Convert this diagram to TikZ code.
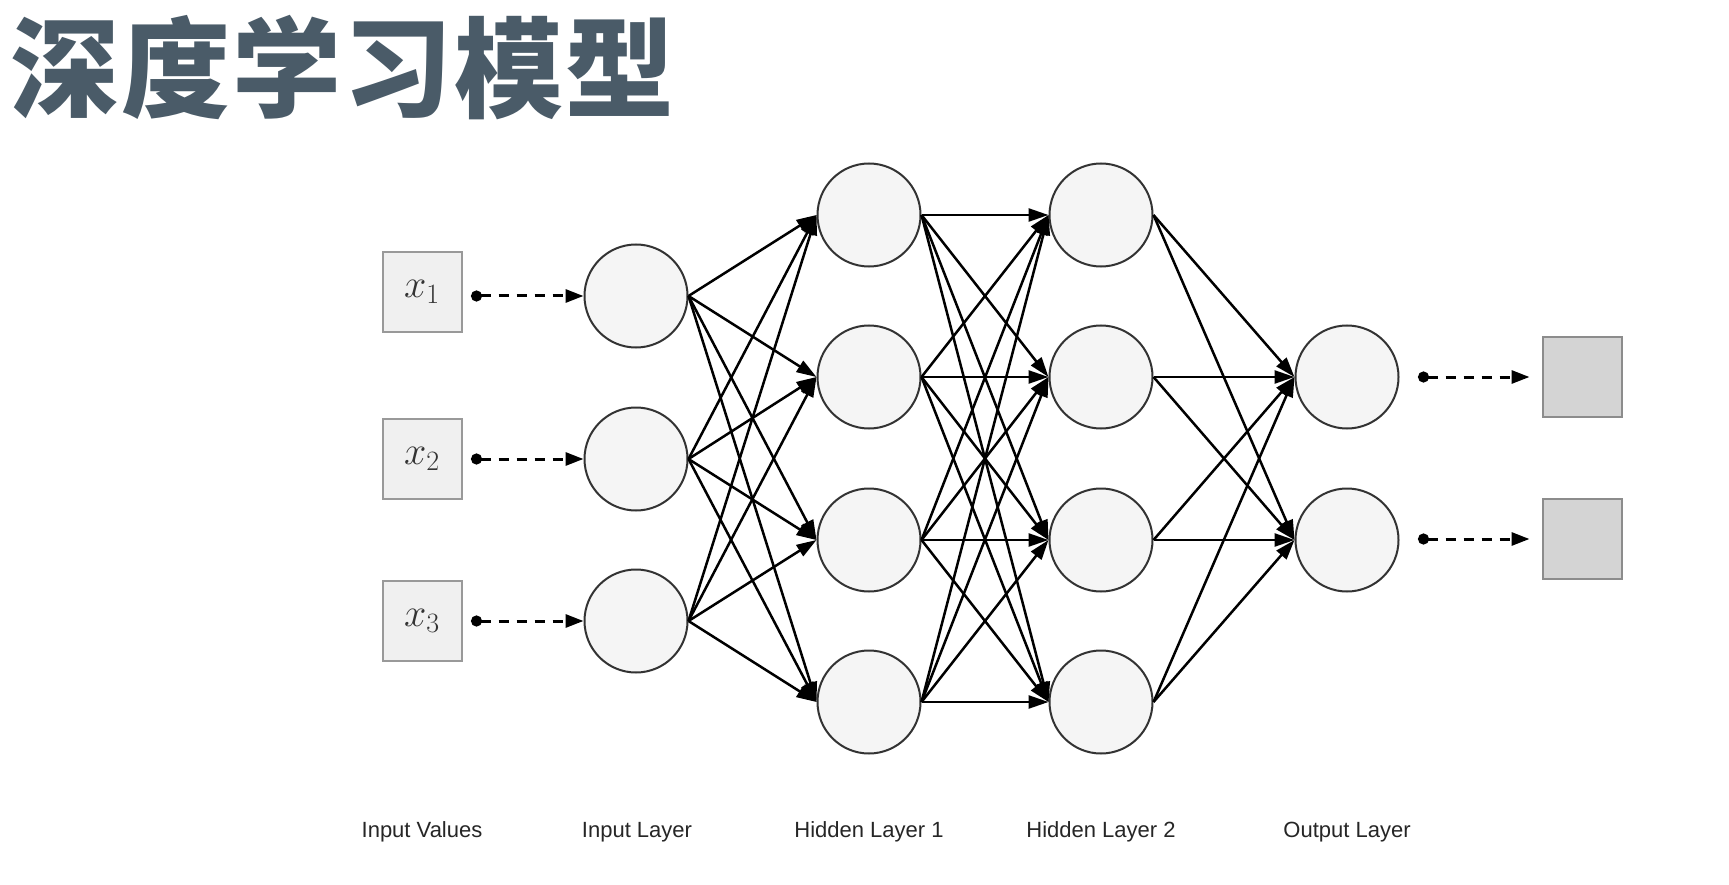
\RequirePackage{fix-cm}
\documentclass[tikz,border=0pt]{standalone}
\usepackage{fontspec}
\setmainfont{Liberation Sans}
\newfontfamily\cjk{Noto Sans CJK SC}[LetterSpace=2]
\usetikzlibrary{arrows.meta}
\definecolor{titlecol}{HTML}{4A5B68}
\begin{document}
\begin{tikzpicture}[x=1pt,y=-1pt,
  neuron/.style={circle,draw=black!80,fill=black!4,line width=2pt,minimum size=103pt,inner sep=0pt},
  invalbox/.style={rectangle,draw=black!40,fill=black!6,line width=2pt,minimum width=79pt,minimum height=80pt,inner sep=0pt,text=black!80,font=\fontsize{40}{44}\selectfont},
  outbox/.style={rectangle,draw=black!45,fill=black!17,line width=2pt,minimum width=79pt,minimum height=80pt,inner sep=0pt},
  conn/.style={line width=2.5pt,-{Triangle[length=20pt,width=13pt]}},
  feed/.style={line width=3pt,dash pattern=on 10pt off 8pt,{Circle[length=11pt]}-{Triangle[length=18pt,width=13pt]}},
  lab/.style={anchor=base,font=\fontsize{22}{24}\selectfont,text=black!85,inner sep=0pt}
]
\useasboundingbox[fill=white] (0,0) rectangle (1729,885);
% title
\node[anchor=base west,inner sep=0pt,text=titlecol,font=\cjk\bfseries\fontsize{109}{112}\selectfont] (title) at (10,110) {深度学习模型};
% input values
\node[invalbox] (x1) at (422,292) {$x_1$};
\node[invalbox] (x2) at (422,459) {$x_2$};
\node[invalbox] (x3) at (422,621) {$x_3$};
% layers
\node[neuron] (i1) at (636,296) {};
\node[neuron] (i2) at (636,459) {};
\node[neuron] (i3) at (636,621) {};
\foreach \k/\y in {1/215,2/377,3/540,4/702}{
  \node[neuron] (h\k) at (869,\y) {};
  \node[neuron] (g\k) at (1101,\y) {};
}
\node[neuron] (o1) at (1347,377) {};
\node[neuron] (o2) at (1347,540) {};
% output boxes
\node[outbox] (y1) at (1582,377) {};
\node[outbox] (y2) at (1582,539) {};
% connections
\foreach \i in {1,2,3}{\foreach \j in {1,...,4}{\draw[conn] (i\i.east) -- (h\j.west);}}
\foreach \i in {1,...,4}{\foreach \j in {1,...,4}{\draw[conn] (h\i.east) -- (g\j.west);}}
\foreach \i in {1,...,4}{\foreach \j in {1,2}{\draw[conn] (g\i.east) -- (o\j.west);}}
% feed lines
\coordinate (d1) at (471,296);
\coordinate (d2) at (471,459);
\coordinate (d3) at (471,621);
\draw[feed] (d1) -- (i1);
\draw[feed] (d2) -- (i2);
\draw[feed] (d3) -- (i3);
\coordinate (e1) at (1418,377);
\coordinate (e2) at (1418,539);
\draw[feed,shorten >=12pt] (e1) -- (y1);
\draw[feed,shorten >=12pt] (e2) -- (y2);
% labels
\node[lab] (l1) at (422,837) {Input Values};
\node[lab] (l2) at (637,837) {Input Layer};
\node[lab] (l3) at (869,837) {Hidden Layer 1};
\node[lab] (l4) at (1101,837) {Hidden Layer 2};
\node[lab] (l5) at (1347,837) {Output Layer};
\end{tikzpicture}
\end{document}
